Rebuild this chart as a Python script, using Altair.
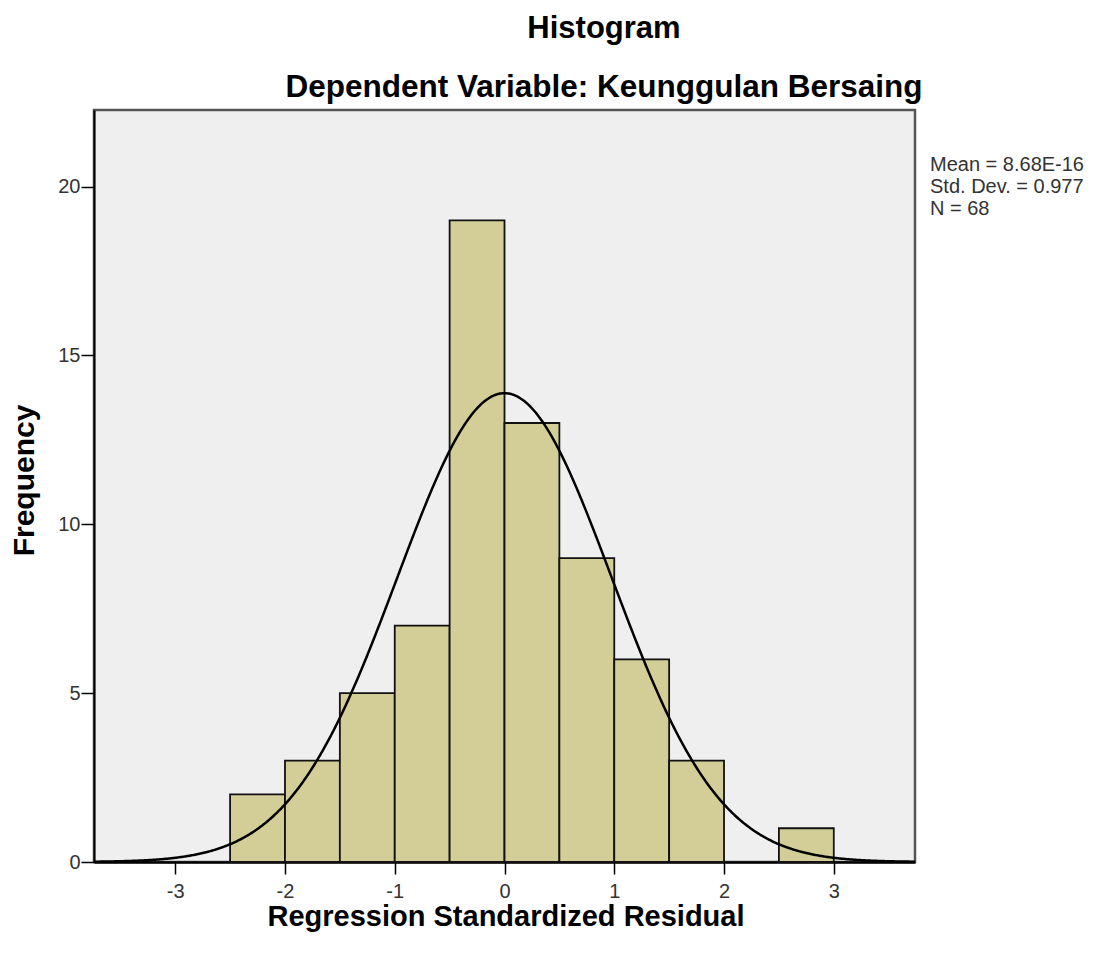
import altair as alt
import pandas as pd

# ---- data ----
bin_start = [-2.5, -2.0, -1.5, -1.0, -0.5, 0.0, 0.5, 1.0, 1.5, 2.0, 2.5]
bin_end = [-2.0, -1.5, -1.0, -0.5, 0.0, 0.5, 1.0, 1.5, 2.0, 2.5, 3.0]
counts = [2, 3, 5, 7, 19, 13, 9, 6, 3, 0, 1]

mean_val = 8.68e-16
std_val = 0.977
n_val = 68
bin_width = 0.5

x_ticks = [-3, -2, -1, 0, 1, 2, 3]
y_ticks = [0, 5, 10, 15, 20]
x_domain = [-3.74, 3.74]
y_domain = [0, 22.27]

title_text = "Histogram"
subtitle_text = "Dependent Variable: Keunggulan Bersaing"
stats_lines = ["Mean = 8.68E-16", "Std. Dev. = 0.977", "N = 68"]
x_title = "Regression Standardized Residual"
y_title = "Frequency"

W, H = 821, 752
FONT = "Liberation Sans"
LABEL_EXPR = "datum.value < 0 ? '-' + abs(datum.value) : '' + datum.value"

bars_df = pd.DataFrame({"start": bin_start, "end": bin_end, "count": counts})

xscale = alt.Scale(domain=x_domain, nice=False, zero=False)
yscale = alt.Scale(domain=y_domain, nice=False)

xaxis = alt.Axis(values=x_ticks, title=x_title, grid=False, tickSize=12,
                 labelPadding=7, labelFontSize=20, labelColor="#333333",
                 labelExpr=LABEL_EXPR,
                 titleFontSize=29, titleFontWeight="bold", titleColor="black",
                 titleFont=FONT, labelFont=FONT, titleX=W / 2 + 1, titleY=54,
                 titleBaseline="middle", titleAlign="center",
                 domainColor="black", domainWidth=2.5, tickColor="black", tickWidth=1.5)
yaxis = alt.Axis(values=y_ticks, title=y_title, grid=False, tickSize=13,
                 labelPadding=1, labelFontSize=20, labelColor="#333333",
                 labelExpr=LABEL_EXPR,
                 titleFontSize=30, titleFontWeight="bold", titleColor="black",
                 titleFont=FONT, labelFont=FONT, titleX=-70, titleY=H / 2 - 6,
                 titleAngle=270, titleBaseline="middle", titleAlign="center",
                 domainColor="black", domainWidth=2, tickColor="black", tickWidth=1.5)

bars = alt.Chart(bars_df).transform_filter("datum.count > 0").mark_rect(
    fill="#D3CE97", stroke="#111111", strokeWidth=1.8
).encode(
    x=alt.X("start:Q", scale=xscale, axis=xaxis),
    x2="end:Q",
    y=alt.Y("count:Q", scale=yscale, axis=yaxis),
    y2=alt.datum(0),
)

curve = alt.Chart(alt.sequence(-3.74, 3.745, 0.01, as_="x")).transform_calculate(
    f=f"{n_val} * {bin_width} * exp(-0.5 * pow((datum.x - {mean_val}) / {std_val}, 2)) / ({std_val} * sqrt(2 * PI))"
).mark_line(color="black", strokeWidth=2.5).encode(
    x=alt.X("x:Q", scale=xscale),
    y=alt.Y("f:Q", scale=yscale),
)

title_df = pd.DataFrame({"t": [title_text]})
sub_df = pd.DataFrame({"t": [subtitle_text]})
stats_df = pd.DataFrame({"t": stats_lines, "i": [0, 1, 2]})

title_mark = alt.Chart(title_df).mark_text(
    font=FONT, fontSize=31, fontWeight="bold", color="black", align="center", baseline="alphabetic"
).encode(x=alt.value(510), y=alt.value(-72), text="t:N")

sub_mark = alt.Chart(sub_df).mark_text(
    font=FONT, fontSize=31.5, fontWeight="bold", color="black", align="center", baseline="alphabetic"
).encode(x=alt.value(510), y=alt.value(-13), text="t:N")

stats_mark = alt.Chart(stats_df).transform_calculate(
    yy="61 + datum.i * 22"
).mark_text(
    font=FONT, fontSize=20, color="#333333", align="left", baseline="alphabetic"
).encode(x=alt.value(836), y=alt.Y("yy:Q", scale=None), text="t:N")

chart = alt.layer(bars, curve, title_mark, sub_mark, stats_mark).properties(
    width=W, height=H,
    autosize=alt.AutoSizeParams(type="none"),
    padding={"left": 86, "top": 102, "right": 179, "bottom": 88},
    background="white",
).configure_view(
    fill="#EFEFEF", stroke="#555555", strokeWidth=2.5
)

chart.save("out.html", embed_options={"renderer": "svg", "actions": False})
